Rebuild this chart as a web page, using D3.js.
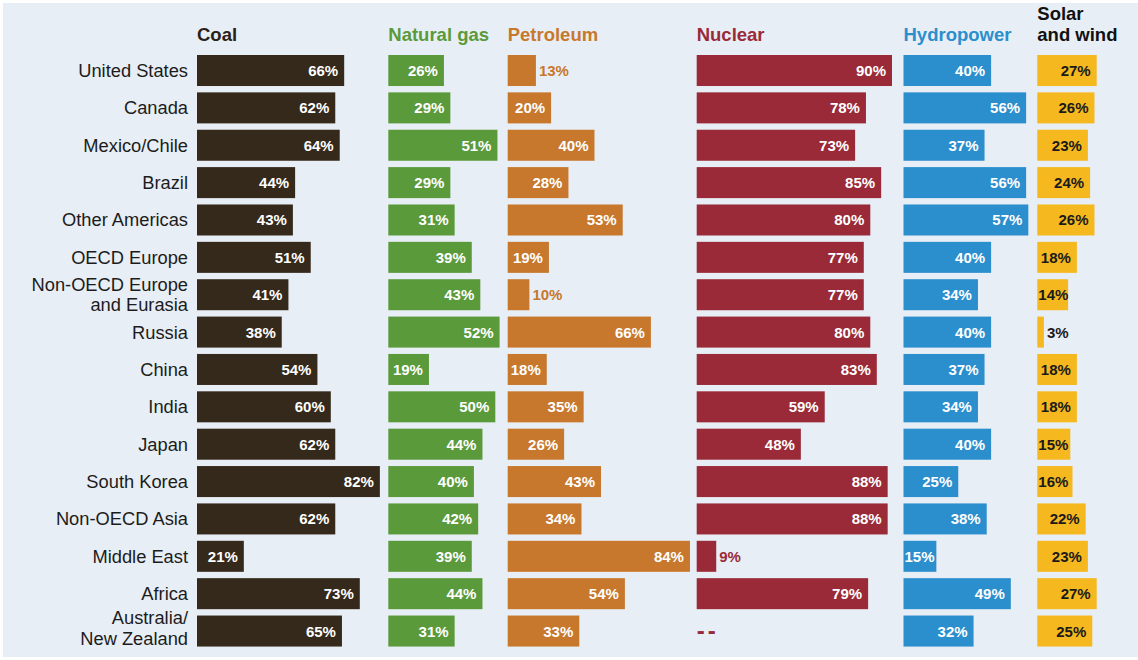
<!DOCTYPE html>
<html>
<head>
<meta charset="utf-8">
<script src="https://cdn.jsdelivr.net/npm/d3@7"></script>
<style>
  html, body { margin: 0; padding: 0; background: #ffffff; }
  svg { display: block; }
  text { font-family: "Liberation Sans", Arial, Helvetica, sans-serif; }
</style>
</head>
<body>
<svg id="chart" width="1138" height="660"></svg>
<script>
// ---------- data ----------
const regions = [
  "United States", "Canada", "Mexico/Chile", "Brazil", "Other Americas",
  "OECD Europe", "Non-OECD Europe\nand Eurasia", "Russia", "China", "India",
  "Japan", "South Korea", "Non-OECD Asia", "Middle East", "Africa",
  "Australia/\nNew Zealand"
];
const seriesNames = ["Coal", "Natural gas", "Petroleum", "Nuclear", "Hydropower", "Solar\nand wind"];
const coal      = [66, 62, 64, 44, 43, 51, 41, 38, 54, 60, 62, 82, 62, 21, 73, 65];
const naturalGas= [26, 29, 51, 29, 31, 39, 43, 52, 19, 50, 44, 40, 42, 39, 44, 31];
const petroleum = [13, 20, 40, 28, 53, 19, 10, 66, 18, 35, 26, 43, 34, 84, 54, 33];
const nuclear   = [90, 78, 73, 85, 80, 77, 77, 80, 83, 59, 48, 88, 88, 9, 79, null];
const hydropower= [40, 56, 37, 56, 57, 40, 34, 40, 37, 34, 40, 25, 38, 15, 49, 32];
const solarWind = [27, 26, 23, 24, 26, 18, 14, 3, 18, 18, 15, 16, 22, 23, 27, 25];
const seriesValues = [coal, naturalGas, petroleum, nuclear, hydropower, solarWind];

// ---------- layout / style ----------
const colors     = ["#35291b", "#5b9a3b", "#c7782c", "#9a2a38", "#2b8ecd", "#f5b81f"];
const headColors = ["#2a2117", "#5b9a3b", "#c7782c", "#9a2a38", "#2b8ecd", "#111111"];
const innerText  = ["#ffffff", "#ffffff", "#ffffff", "#ffffff", "#ffffff", "#1a1a1a"];
const outerText  = ["#35291b", "#5b9a3b", "#c7782c", "#9a2a38", "#2b8ecd", "#1a1a1a"];
const colX0 = [197, 388.3, 507.7, 696.7, 903.5, 1037.3];
const colK  = [2.23, 2.14, 2.17, 2.17, 2.19, 2.2];

const svg = d3.select("#chart");
svg.append("rect").attr("x", 3).attr("y", 3).attr("width", 1135).attr("height", 654)
  .attr("fill", "#e8eef5");

const y = d3.scaleBand().domain(regions).range([55, 55 + 15 * 37.37 + 31])
  .paddingInner(0.17).paddingOuter(0);

// row labels
regions.forEach((r, i) => {
  const lines = r.split("\n");
  const cy = y(r) + y.bandwidth() / 2;
  const t = svg.append("text").attr("x", 188).attr("text-anchor", "end")
    .attr("font-size", 18.3).attr("fill", "#1c1c1c");
  if (lines.length === 1) {
    t.attr("y", cy + 6.5).text(lines[0]);
  } else {
    const up = i === regions.length - 1 ? 7 : 4;
    t.append("tspan").attr("x", 188).attr("y", cy - up).text(lines[0]);
    t.append("tspan").attr("x", 188).attr("y", cy - up + 20.5).text(lines[1]);
  }
});

seriesNames.forEach((name, ci) => {
  const x = d3.scaleLinear().domain([0, 100]).range([colX0[ci], colX0[ci] + 100 * colK[ci]]);
  const g = svg.append("g");

  // header
  const lines = name.split("\n");
  const h = g.append("text").attr("x", colX0[ci]).attr("font-size", 18.5)
    .attr("font-weight", "bold").attr("fill", headColors[ci]);
  if (lines.length === 1) {
    h.attr("y", 41).text(lines[0]);
  } else {
    h.append("tspan").attr("x", colX0[ci]).attr("y", 20).text(lines[0]);
    h.append("tspan").attr("x", colX0[ci]).attr("y", 41).text(lines[1]);
  }

  const vals = seriesValues[ci];
  regions.forEach((r, i) => {
    const v = vals[i];
    const cy = y(r) + y.bandwidth() / 2;
    if (v === null) {
      g.append("text").attr("x", x(0)).attr("y", cy + 8).attr("font-size", 24)
        .attr("font-weight", "bold").attr("letter-spacing", 3)
        .attr("fill", outerText[ci]).text("--");
      return;
    }
    g.append("rect").attr("x", x(0)).attr("y", y(r))
      .attr("width", x(v) - x(0)).attr("height", y.bandwidth())
      .attr("fill", colors[ci]);
    const lbl = g.append("text").attr("y", cy + 5.5).attr("font-size", 15)
      .attr("font-weight", "bold").text(v + "%");
    const tw = lbl.node().getComputedTextLength();
    const bw = x(v) - x(0);
    if (bw >= tw) {
      lbl.attr("x", Math.max(x(v) - 6 - tw, x(0) + 1)).attr("fill", innerText[ci]);
    } else {
      lbl.attr("x", x(v) + 3).attr("fill", outerText[ci]);
    }
  });
});
</script>
</body>
</html>
